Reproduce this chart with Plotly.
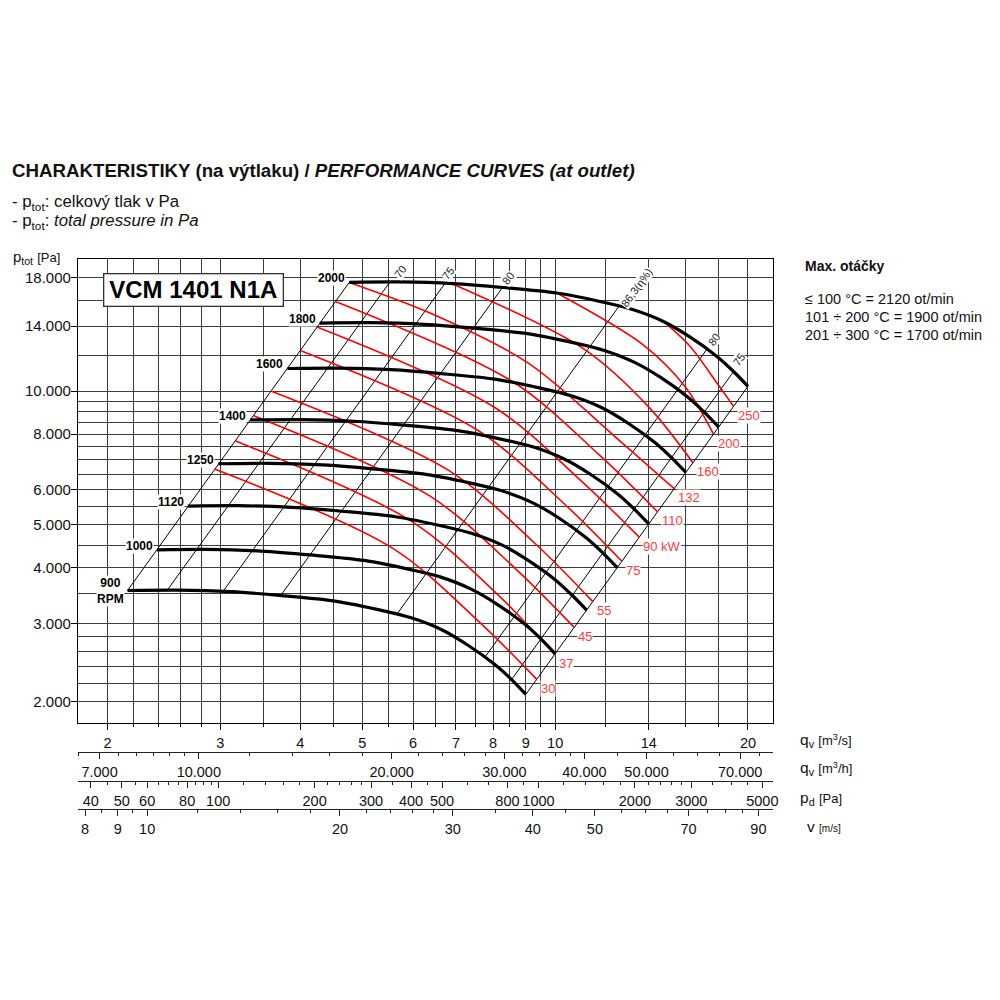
import math
import plotly.graph_objects as go

# ---------------- values ----------------
# black fan curves: q_v [m3/s] and p_tot [Pa] for each speed
q_2000 = [4.77, 5.72, 6.93, 8.30, 10.06, 12.04, 13.25, 14.76, 16.25, 17.89, 18.99, 20.0]
p_2000 = [17570, 17610, 17460, 17110, 16630, 15790, 15250, 14350, 13230, 11970, 11070, 10250]
q_1800 = [4.29, 5.15, 6.24, 7.47, 9.05, 10.84, 11.93, 13.28, 14.63, 16.10, 17.09, 18.0]
p_1800 = [14230, 14260, 14140, 13860, 13470, 12790, 12350, 11620, 10720, 9700, 8970, 8300]
q_1600 = [3.82, 4.58, 5.54, 6.64, 8.05, 9.63, 10.60, 11.81, 13.00, 14.31, 15.19, 16.0]
p_1600 = [11245, 11270, 11174, 10950, 10643, 10106, 9760, 9184, 8467, 7661, 7085, 6560]
q_1400 = [3.34, 4.00, 4.85, 5.81, 7.04, 8.43, 9.28, 10.33, 11.38, 12.52, 13.29, 14.0]
p_1400 = [8609, 8629, 8555, 8384, 8149, 7737, 7473, 7032, 6483, 5865, 5424, 5023]
q_1250 = [2.98, 3.58, 4.33, 5.19, 6.29, 7.53, 8.28, 9.23, 10.16, 11.18, 11.87, 12.5]
p_1250 = [6863, 6879, 6820, 6684, 6496, 6168, 5957, 5605, 5168, 4676, 4324, 4004]
q_1120 = [2.67, 3.20, 3.88, 4.65, 5.63, 6.74, 7.42, 8.27, 9.10, 10.02, 10.63, 11.2]
p_1120 = [5510, 5522, 5475, 5366, 5215, 4952, 4782, 4500, 4149, 3754, 3471, 3214]
q_1000 = [2.39, 2.86, 3.47, 4.15, 5.03, 6.02, 6.63, 7.38, 8.13, 8.95, 9.50, 10.0]
p_1000 = [4393, 4403, 4365, 4278, 4158, 3948, 3813, 3588, 3308, 2993, 2768, 2563]
q_900 = [2.15, 2.57, 3.12, 3.74, 4.53, 5.42, 5.96, 6.64, 7.31, 8.05, 8.55, 9.0]
p_900 = [3558, 3566, 3536, 3465, 3368, 3198, 3088, 2907, 2679, 2424, 2242, 2076]

rpm_names = ["2000", "1800", "1600", "1400", "1250", "1120", "1000", "900<br>RPM"]

# efficiency lines (system parabolas): upper end on 2000 curve, lower end on 900 curve
eff_names = ["", "70", "75", "80", "86,3(η%)", "80", "75", ""]
eff_top_q = [4.77, 5.52, 6.73, 8.28, 12.6, 17.26, 18.99, 20.0]
eff_top_p = [17570, 17600, 17480, 17130, 15580, 12440, 11070, 10250]
eff_bot_q = [2.15, 2.48, 3.03, 3.73, 5.67, 7.77, 8.55, 9.0]
eff_bot_p = [3558, 3564, 3540, 3469, 3155, 2519, 2242, 2076]
eff_lab_q = [None, 5.72, 6.81, 8.45, 13.42, 17.67, 19.33, None]
eff_lab_p = [None, 18575, 18448, 17975, 17150, 13050, 11770, None]

# red power curves (kW)
pw_names = ["30", "37", "45", "55", "75", "90 kW", "110", "132", "160", "200", "250"]
q_30 = [2.94, 5.58, 7.61, 9.36];   p_30 = [6675, 4426, 3024, 2245]
q_37 = [3.17, 5.96, 8.13, 9.98];   p_37 = [7720, 5098, 3486, 2552]
q_45 = [3.38, 6.37, 8.70, 10.71];  p_45 = [8810, 5810, 3966, 2939]
q_55 = [3.60, 6.83, 9.33, 11.45];  p_55 = [10010, 6622, 4522, 3359]
q_75 = [4.00, 7.56, 10.36, 12.71]; p_75 = [12350, 8176, 5556, 4140]
q_90 = [4.25, 8.05, 10.99, 13.53]; p_90 = [13950, 9188, 6272, 4691]
q_110 = [4.54, 8.59, 11.73, 14.45]; p_110 = [15920, 10496, 7174, 5351]
q_132 = [4.77, 6.38, 9.07, 12.46, 15.34]; p_132 = [17570, 14992, 11576, 7852, 6030]
q_160 = [6.89, 11.11, 14.04, 16.41]; p_160 = [17470, 12418, 9170, 6900]
q_200 = [10.06, 13.71, 15.96, 17.67]; p_200 = [16630, 12724, 10224, 8001]
q_250 = [14.76, 16.25, 17.89, 18.99]; p_250 = [14350, 12606, 10426, 9241]

# axis ticks
qs_ticks = [2, 3, 4, 5, 6, 7, 8, 9, 10, 14, 20]
qs_minor = [2.2, 2.4, 2.6, 2.8, 3.5, 4.5, 5.5, 6.5, 7.5, 8.5, 9.5, 12, 16, 18]
p_ticks = [2000, 3000, 4000, 5000, 6000, 8000, 10000, 14000, 18000]
p_minor = [2200, 2400, 2600, 2800, 3500, 4500, 5500, 6500, 7000, 7500, 8500, 9000, 9500, 12000, 16000]
qh_ticks = [7000, 10000, 20000, 30000, 40000, 50000, 70000]
qh_minor = [6500, 7500, 8000, 8500, 9000, 9500, 12000, 14000, 16000, 18000, 22000, 24000, 26000,
            28000, 32000, 34000, 36000, 38000, 45000, 55000, 60000, 65000, 75000]
pd_ticks = [40, 50, 60, 80, 100, 200, 300, 400, 500, 800, 1000, 2000, 3000, 5000]
pd_minor = [45, 55, 65, 70, 75, 85, 90, 95, 120, 140, 160, 180, 220, 240, 260, 280, 350, 450,
            600, 700, 900, 1200, 1400, 1600, 1800, 2200, 2400, 2600, 2800, 3500, 4000, 4500]
v_ticks = [8, 9, 10, 20, 30, 40, 50, 70, 90]
v_minor = [8.5, 9.5, 12, 14, 16, 18, 22, 24, 26, 28, 35, 45, 55, 60, 65, 75, 80, 85]

# unit relations for the auxiliary axes
M3H_PER_M3S = 3600.0
OUTLET_AREA = 0.2307   # m2  (v = q / A)
HALF_RHO = 0.6         # pd = 0.6 * v^2

# ---------------- layout geometry (pixels) ----------------
PX_L, PX_R, PX_T, PX_B = 78.3, 772.7, 259.3, 723.3
PAPER_BOT = 830.0
W = PX_R - PX_L
H = PAPER_BOT - PX_T
X_RANGE = [0.25509, 1.34009]
Y_RANGE = [3.25238, 4.29743]


def px_x(px):
    return (px - PX_L) / W


def px_y(py):
    return (PAPER_BOT - py) / H


def fmt(v):
    return f"{v:,}".replace(",", ".")


FONT = "Liberation Sans, Arial, Helvetica, sans-serif"
GRID = "#3c3c3c"
RED = "#ff0000"
RED_TXT = "#ff3b3b"

fig = go.Figure()

# efficiency lines
for i in range(len(eff_top_q)):
    fig.add_trace(go.Scatter(x=[eff_bot_q[i], eff_top_q[i]], y=[eff_bot_p[i], eff_top_p[i]],
                             mode="lines", line=dict(color="black", width=1), hoverinfo="skip"))

# red power curves
red_q = [q_30, q_37, q_45, q_55, q_75, q_90, q_110, q_132, q_160, q_200, q_250]
red_p = [p_30, p_37, p_45, p_55, p_75, p_90, p_110, p_132, p_160, p_200, p_250]
for qq, pp in zip(red_q, red_p):
    fig.add_trace(go.Scatter(x=qq, y=pp, mode="lines",
                             line=dict(color=RED, width=1.6, shape="spline", smoothing=0.9),
                             hoverinfo="skip"))

# black fan curves
fan_q = [q_2000, q_1800, q_1600, q_1400, q_1250, q_1120, q_1000, q_900]
fan_p = [p_2000, p_1800, p_1600, p_1400, p_1250, p_1120, p_1000, p_900]
for qq, pp in zip(fan_q, fan_p):
    fig.add_trace(go.Scatter(x=qq, y=pp, mode="lines",
                             line=dict(color="black", width=3.2, shape="spline", smoothing=0.8),
                             hoverinfo="skip"))

# invisible anchors so the auxiliary unit axes get drawn
for ax, vals in [("x2", qh_ticks), ("x3", pd_ticks), ("x4", v_ticks)]:
    fig.add_trace(go.Scatter(x=[vals[0]], y=[p_ticks[0]], xaxis=ax, yaxis="y", mode="markers",
                             marker=dict(opacity=0, size=1), hoverinfo="skip"))

ann = []
# RPM labels
for i, name in enumerate(rpm_names):
    last = name.startswith("900")
    ann.append(dict(x=math.log10(fan_q[i][0]), y=math.log10(fan_p[i][0]), xref="x", yref="y",
                    text="<b>" + name + "</b>",
                    showarrow=False, xanchor="right", yanchor="middle",
                    xshift=-3, yshift=0 if last else 4,
                    align="center", bgcolor="white", borderpad=0,
                    font=dict(family=FONT, size=12, color="black")))

# efficiency labels
for i, name in enumerate(eff_names):
    if not name:
        continue
    ann.append(dict(x=math.log10(eff_lab_q[i]), y=math.log10(eff_lab_p[i]), xref="x", yref="y",
                    text=name, showarrow=False, textangle=-54, bgcolor="white", borderpad=0,
                    font=dict(family=FONT, size=11, color="#222")))

# power labels
for name, qq, pp in zip(pw_names, red_q, red_p):
    ann.append(dict(x=math.log10(qq[-1]), y=math.log10(pp[-1]), xref="x", yref="y",
                    text=name, showarrow=False, xanchor="left", yanchor="middle",
                    xshift=3, yshift=-9, bgcolor="white", borderpad=0,
                    font=dict(family=FONT, size=13, color=RED_TXT)))

# model box
ann.append(dict(x=px_x(194), y=px_y(290.7), xref="paper", yref="paper",
                text="<b>VCM 1401 N1A</b>", showarrow=False, xanchor="center", yanchor="middle",
                width=176, height=29, bgcolor="white", bordercolor="#333", borderwidth=1.3,
                borderpad=1, font=dict(family=FONT, size=24, color="black")))

# titles
ann.append(dict(x=px_x(10), y=px_y(171), xref="paper", yref="paper", xanchor="left", yanchor="middle",
                showarrow=False,
                text="<b>CHARAKTERISTIKY (na výtlaku) / <i>PERFORMANCE CURVES (at outlet)</i></b>",
                font=dict(family=FONT, size=18.7, color="#111")))
ann.append(dict(x=px_x(10), y=px_y(203), xref="paper", yref="paper", xanchor="left", yanchor="middle",
                showarrow=False, text="- p<sub>tot</sub>: celkový tlak v Pa",
                font=dict(family=FONT, size=16.8, color="#111")))
ann.append(dict(x=px_x(10), y=px_y(222), xref="paper", yref="paper", xanchor="left", yanchor="middle",
                showarrow=False, text="- p<sub>tot</sub>: <i>total pressure in Pa</i>",
                font=dict(family=FONT, size=16.8, color="#111")))
ann.append(dict(x=px_x(11), y=px_y(258), xref="paper", yref="paper", xanchor="left", yanchor="middle",
                showarrow=False, text="p<sub>tot</sub> <span style='font-size:13px'>[Pa]</span>",
                font=dict(family=FONT, size=15, color="#111")))

# right-hand notes
ann.append(dict(x=px_x(803), y=px_y(266), xref="paper", yref="paper", xanchor="left", yanchor="middle",
                showarrow=False, text="<b>Max. otáčky</b>", font=dict(family=FONT, size=14, color="#111")))
for yy, t in [(299, "≤ 100 °C = 2120 ot/min"), (317, "101 ÷ 200 °C = 1900 ot/min"),
              (335, "201 ÷ 300 °C = 1700 ot/min")]:
    ann.append(dict(x=px_x(803), y=px_y(yy), xref="paper", yref="paper", xanchor="left",
                    yanchor="middle", showarrow=False, text=t,
                    font=dict(family=FONT, size=14.5, color="#111")))

# auxiliary axis names
for yy, t in [(741, "q<sub>v</sub> <span style='font-size:13px'>[m<sup>3</sup>/s]</span>"),
              (769, "q<sub>v</sub> <span style='font-size:13px'>[m<sup>3</sup>/h]</span>"),
              (799, "p<sub>d</sub> <span style='font-size:13px'>[Pa]</span>"),
              (827, "v <span style='font-size:10px'>[m/s]</span>")]:
    ann.append(dict(x=px_x(798 if yy != 827 else 805), y=px_y(yy), xref="paper", yref="paper",
                    xanchor="left", yanchor="middle", showarrow=False, text=t,
                    font=dict(family=FONT, size=15.5, color="#111")))

fig.update_layout(annotations=ann)

ydom0 = px_y(PX_B)
tickfont = dict(family=FONT, size=14.5, color="#111")
aux_common = dict(type="log", overlaying="x", anchor="free", side="bottom", tickmode="array",
                  ticks="outside", ticklen=6, tickcolor="#222", showgrid=False, showline=True,
                  linecolor="#222", linewidth=1.3, zeroline=False, tickfont=tickfont,
                  ticklabelstandoff=0)

fig.update_layout(
    width=1000, height=1000,
    margin=dict(l=PX_L, r=1000 - PX_R, t=PX_T, b=1000 - PAPER_BOT, pad=0),
    paper_bgcolor="white", plot_bgcolor="white", showlegend=False,
    xaxis=dict(type="log", range=X_RANGE, tickmode="array", tickvals=qs_ticks,
               ticktext=[str(v) for v in qs_ticks], ticks="outside", ticklen=6, tickwidth=1,
               tickcolor="black", showgrid=True, gridcolor=GRID, gridwidth=1,
               minor=dict(tickvals=qs_minor, ticks="outside", ticklen=3, tickcolor="black",
                          showgrid=True, gridcolor=GRID, gridwidth=1),
               showline=True, mirror=True, linecolor="black", linewidth=1.3, zeroline=False,
               tickfont=tickfont, ticklabelstandoff=0),
    yaxis=dict(type="log", range=Y_RANGE, domain=[ydom0, 1], tickmode="array", tickvals=p_ticks,
               ticktext=[fmt(v) for v in p_ticks], ticks="outside", ticklen=6, tickcolor="black",
               showgrid=True, gridcolor=GRID, gridwidth=1,
               minor=dict(tickvals=p_minor, ticks="", showgrid=True, gridcolor=GRID, gridwidth=1),
               showline=True, mirror=True, linecolor="black", linewidth=1.3, zeroline=False,
               tickfont=dict(family=FONT, size=15, color="#111"), ticklabelstandoff=-3),
    xaxis2=dict(aux_common, position=px_y(752.3),
                range=[r + math.log10(M3H_PER_M3S) for r in X_RANGE],
                tickvals=qh_ticks, ticktext=[fmt(v) for v in qh_ticks],
                minor=dict(tickvals=qh_minor, ticks="outside", ticklen=3, tickcolor="#222")),
    xaxis3=dict(aux_common, position=px_y(781),
                range=[math.log10(HALF_RHO) + 2 * (r - math.log10(OUTLET_AREA)) for r in X_RANGE],
                tickvals=pd_ticks, ticktext=[str(v) for v in pd_ticks],
                minor=dict(tickvals=pd_minor, ticks="outside", ticklen=3, tickcolor="#222")),
    xaxis4=dict(aux_common, position=px_y(809.3),
                range=[r - math.log10(OUTLET_AREA) for r in X_RANGE],
                tickvals=v_ticks, ticktext=[str(v) for v in v_ticks],
                minor=dict(tickvals=v_minor, ticks="outside", ticklen=3, tickcolor="#222")),
)

fig.write_html("out.html", config={"displayModeBar": False},
               post_script="document.body.style.margin='0';document.body.style.overflow='hidden';")
